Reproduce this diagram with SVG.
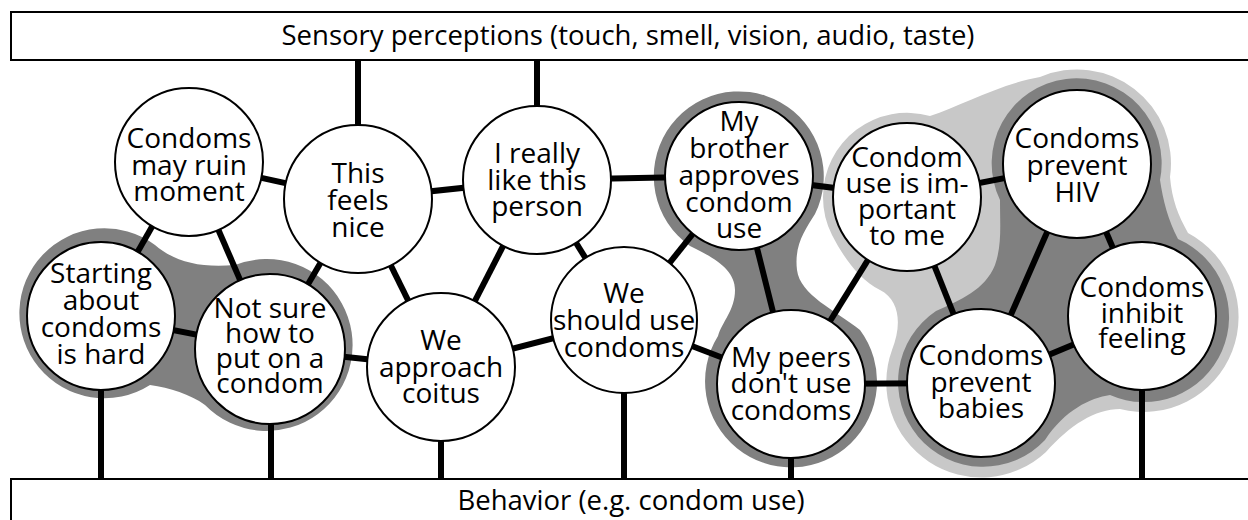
<svg xmlns="http://www.w3.org/2000/svg" width="1248" height="520" viewBox="0 0 1248 520">
<style>
.box{fill:#fff;stroke:#000;stroke-width:2}
.node circle{fill:#fff;stroke:#000;stroke-width:2}
.node text{font-family:"Open Sans","Noto Sans","DejaVu Sans",sans-serif;font-size:28px;text-anchor:middle;fill:#000}
.label{font-family:"Open Sans","Noto Sans","DejaVu Sans",sans-serif;font-size:27.5px;text-anchor:middle;fill:#000}
#connectors line{stroke:#000;stroke-width:6}
.dark{fill:#808080}
.light{fill:#c8c8c8}
</style>
<g id="blobs">
<path class="dark" d="M155,245 C175,262 200,268 235,265 A86,86 0 1 1 205,405 C190,394 170,388 150,385 A85,85 0 1 1 155,245 Z"/>
<path class="dark" d="M690,246 C715,258 735,270 735,290 C735,310 722,322 718,336 A86,86 0 1 0 860,330 C835,310 800,295 797,270 C794,245 805,230 815,214 A85,85 0 1 0 690,246 Z"/>
<path class="light" d="M823,197 A84,84 0 0 1 930,116 C960,106 1000,84 1040,77 A94,94 0 0 1 1170,177 C1172,200 1178,215 1188,233 A95,95 0 0 1 1120,409 C1095,409 1070,425 1046,452 A95,95 0 0 1 892,350 C902,325 900,300 880,290 C860,280 845,260 832,235 A84,84 0 0 1 823,197 Z"/>
<path class="dark" d="M1000,200 A85,85 0 1 1 1160,180 C1163,200 1168,220 1178,239 A85,85 0 0 1 1110,395 C1090,398 1065,410 1045,440 A85,85 0 1 1 936,311 C960,300 985,290 995,265 C1002,245 1000,225 1000,200 Z"/>
</g>
<g id="boxes">
<g id="sensory">
<rect class="box" x="11" y="12" width="1250" height="48"/>
<text class="label" x="628" y="45">Sensory perceptions (touch, smell, vision, audio, taste)</text>
</g>
<g id="behavior">
<rect class="box" x="11" y="479" width="1250" height="50"/>
<text class="label" x="631" y="510">Behavior (e.g. condom use)</text>
</g>
</g>
<g id="connectors">
<line x1="358" y1="60" x2="358" y2="199"/>
<line x1="537" y1="60" x2="537" y2="180"/>
<line x1="189" y1="162" x2="358" y2="199"/>
<line x1="189" y1="162" x2="101" y2="316"/>
<line x1="189" y1="162" x2="270" y2="349"/>
<line x1="358" y1="199" x2="270" y2="349"/>
<line x1="358" y1="199" x2="441" y2="367"/>
<line x1="358" y1="199" x2="537" y2="180"/>
<line x1="537" y1="180" x2="441" y2="367"/>
<line x1="537" y1="180" x2="624" y2="320"/>
<line x1="537" y1="180" x2="739" y2="176"/>
<line x1="739" y1="176" x2="624" y2="320"/>
<line x1="739" y1="176" x2="791" y2="384"/>
<line x1="739" y1="176" x2="907" y2="197"/>
<line x1="907" y1="197" x2="1077" y2="164"/>
<line x1="907" y1="197" x2="791" y2="384"/>
<line x1="907" y1="197" x2="981" y2="383"/>
<line x1="1077" y1="164" x2="981" y2="383"/>
<line x1="1077" y1="164" x2="1142" y2="316"/>
<line x1="981" y1="383" x2="1142" y2="316"/>
<line x1="791" y1="384" x2="981" y2="383"/>
<line x1="624" y1="320" x2="791" y2="384"/>
<line x1="441" y1="367" x2="624" y2="320"/>
<line x1="270" y1="349" x2="441" y2="367"/>
<line x1="101" y1="316" x2="270" y2="349"/>
<line x1="101" y1="316" x2="101" y2="479"/>
<line x1="271" y1="349" x2="271" y2="479"/>
<line x1="441" y1="367" x2="441" y2="479"/>
<line x1="624" y1="320" x2="624" y2="479"/>
<line x1="791" y1="384" x2="791" y2="479"/>
<line x1="1142" y1="316" x2="1142" y2="479"/>
</g>
<g id="n-ruin" class="node"><circle cx="189" cy="162" r="74"/><text><tspan x="189" y="148">Condoms</tspan><tspan x="189" y="175">may ruin</tspan><tspan x="189" y="201">moment</tspan></text></g>
<g id="n-nice" class="node"><circle cx="358" cy="199" r="74"/><text><tspan x="358" y="183">This</tspan><tspan x="358" y="210">feels</tspan><tspan x="358" y="237">nice</tspan></text></g>
<g id="n-person" class="node"><circle cx="537" cy="180" r="74"/><text><tspan x="537" y="163">I really</tspan><tspan x="537" y="190">like this</tspan><tspan x="537" y="216">person</tspan></text></g>
<g id="n-brother" class="node"><circle cx="739" cy="176" r="74"/><text><tspan x="739" y="131">My</tspan><tspan x="739" y="158">brother</tspan><tspan x="739" y="185">approves</tspan><tspan x="739" y="212">condom</tspan><tspan x="739" y="238">use</tspan></text></g>
<g id="n-important" class="node"><circle cx="907" cy="197" r="74"/><text><tspan x="907" y="167">Condom</tspan><tspan x="907" y="193">use is im-</tspan><tspan x="907" y="219">portant</tspan><tspan x="907" y="245">to me</tspan></text></g>
<g id="n-hiv" class="node"><circle cx="1077" cy="164" r="74"/><text><tspan x="1077" y="148">Condoms</tspan><tspan x="1077" y="175">prevent</tspan><tspan x="1077" y="202">HIV</tspan></text></g>
<g id="n-starting" class="node"><circle cx="101" cy="316" r="74"/><text><tspan x="101" y="283">Starting</tspan><tspan x="101" y="310">about</tspan><tspan x="101" y="337">condoms</tspan><tspan x="101" y="364">is hard</tspan></text></g>
<g id="n-notsure" class="node"><circle cx="270" cy="349" r="75"/><text><tspan x="270" y="318">Not sure</tspan><tspan x="270" y="343">how to</tspan><tspan x="270" y="368">put on a</tspan><tspan x="270" y="393">condom</tspan></text></g>
<g id="n-coitus" class="node"><circle cx="441" cy="367" r="74"/><text><tspan x="441" y="350">We</tspan><tspan x="441" y="377">approach</tspan><tspan x="441" y="403">coitus</tspan></text></g>
<g id="n-should" class="node"><circle cx="624" cy="320" r="73"/><text><tspan x="624" y="303">We</tspan><tspan x="624" y="330">should use</tspan><tspan x="624" y="357">condoms</tspan></text></g>
<g id="n-peers" class="node"><circle cx="791" cy="384" r="74"/><text><tspan x="791" y="367">My peers</tspan><tspan x="791" y="393">don't use</tspan><tspan x="791" y="420">condoms</tspan></text></g>
<g id="n-babies" class="node"><circle cx="981" cy="383" r="74"/><text><tspan x="981" y="365">Condoms</tspan><tspan x="981" y="392">prevent</tspan><tspan x="981" y="418">babies</tspan></text></g>
<g id="n-inhibit" class="node"><circle cx="1142" cy="316" r="74"/><text><tspan x="1142" y="297">Condoms</tspan><tspan x="1142" y="323">inhibit</tspan><tspan x="1142" y="348">feeling</tspan></text></g>
</svg>
